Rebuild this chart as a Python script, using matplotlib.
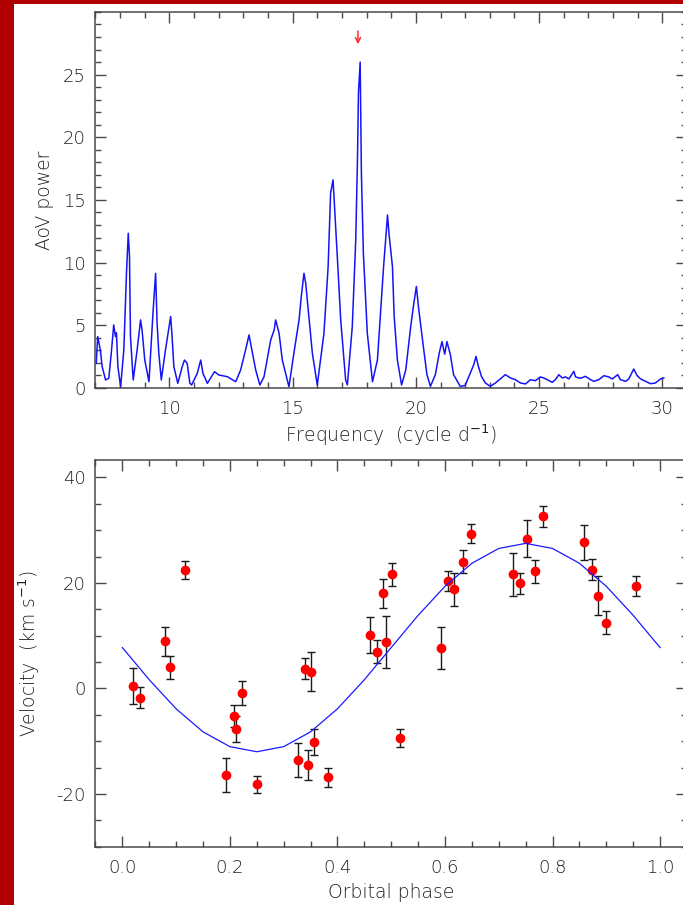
import matplotlib
matplotlib.use("Agg")
import matplotlib.pyplot as plt
from matplotlib.patches import Rectangle
from matplotlib.ticker import MultipleLocator, FormatStrFormatter
import numpy as np

plt.rcParams['font.family'] = ['DejaVu Sans']
plt.rcParams['axes.unicode_minus'] = False

# AoV periodogram (frequency in cycle/day, power)
aov_freq = [7.03, 7.09, 7.20, 7.27, 7.41, 7.54, 7.64, 7.74, 7.81, 7.85, 7.91, 8.02,
            8.15, 8.26, 8.33, 8.38, 8.42, 8.53, 8.69, 8.83, 8.89, 9.00, 9.17, 9.34,
            9.44, 9.50, 9.57, 9.67, 9.84, 10.05, 10.10, 10.18, 10.34, 10.52, 10.61,
            10.72, 10.83, 10.90, 11.13, 11.27, 11.36, 11.54, 11.83, 12.00, 12.35,
            12.69, 12.89, 13.09, 13.23, 13.32, 13.50, 13.67, 13.84, 14.11, 14.25,
            14.31, 14.45, 14.58, 14.85, 15.05, 15.26, 15.35, 15.46, 15.53, 15.67,
            15.80, 16.00, 16.27, 16.44, 16.54, 16.64, 16.70, 16.82, 16.95, 17.15,
            17.22, 17.42, 17.56, 17.63, 17.67, 17.74, 17.79, 17.87, 18.03, 18.24,
            18.44, 18.69, 18.85, 18.91, 19.05, 19.12, 19.25, 19.42, 19.59, 19.79,
            19.91, 20.02, 20.11, 20.31, 20.45, 20.59, 20.79, 20.95, 21.06, 21.17,
            21.26, 21.40, 21.53, 21.80, 22.00, 22.21, 22.35, 22.44, 22.53, 22.66,
            22.82, 23.02, 23.23, 23.50, 23.63, 23.84, 24.04, 24.24, 24.45, 24.65,
            24.85, 25.05, 25.19, 25.33, 25.53, 25.66, 25.80, 25.94, 26.07, 26.21,
            26.41, 26.48, 26.68, 26.88, 27.09, 27.22, 27.42, 27.63, 27.83, 27.97,
            28.19, 28.30, 28.51, 28.64, 28.84, 28.98, 29.12, 29.32, 29.52, 29.72,
            29.93, 30.06]
aov_power = [1.97, 4.10, 3.00, 1.70, 0.64, 0.77, 2.77, 5.03, 4.10, 4.40, 1.70, 0.10,
             3.03, 9.28, 12.34, 10.50, 4.10, 0.64, 3.03, 5.43, 4.63, 2.23, 0.50, 6.20,
             9.15, 5.16, 2.77, 0.64, 3.03, 5.70, 4.36, 1.70, 0.37, 1.70, 2.23,
             1.97, 0.37, 0.24, 1.17, 2.23, 1.17, 0.37, 1.30, 1.04, 0.90,
             0.50, 1.44, 3.03, 4.23, 3.30, 1.44, 0.24, 0.90, 3.83, 4.63,
             5.43, 4.36, 2.23, 0.10, 2.77, 5.43, 7.29, 9.15, 8.36, 5.43,
             2.77, 0.24, 4.36, 9.68, 15.54, 16.60, 14.47, 10.20, 5.43, 0.64,
             0.24, 4.89, 11.80, 18.20, 23.50, 26.00, 17.10, 10.75, 4.36, 0.50,
             2.23, 9.68, 13.80, 12.30, 9.68, 5.70, 2.23, 0.24, 1.44, 4.89,
             6.65, 8.10, 6.40, 3.20, 1.06, 0.13, 1.06, 2.80, 3.70, 2.70,
             3.70, 2.66, 1.06, 0.13, 0.20, 1.20, 1.86, 2.52, 1.77, 0.93,
             0.40, 0.13, 0.40, 0.85, 1.06, 0.80, 0.66, 0.40, 0.32, 0.66,
             0.58, 0.88, 0.80, 0.66, 0.45, 0.66, 1.06, 0.80, 0.88, 0.72,
             1.33, 0.88, 0.77, 0.93, 0.66, 0.53, 0.66, 0.98, 0.88, 0.72,
             1.06, 0.66, 0.53, 0.72, 1.51, 0.98, 0.72, 0.53, 0.34, 0.40,
             0.72, 0.80]
best_freq = 17.65

# Radial velocities folded on the orbital period
phase = [0.019, 0.033, 0.079, 0.089, 0.116, 0.193, 0.207, 0.211, 0.223, 0.250,
         0.326, 0.340, 0.345, 0.350, 0.357, 0.382, 0.460, 0.473, 0.484, 0.490,
         0.501, 0.516, 0.592, 0.606, 0.617, 0.634, 0.649, 0.726, 0.740, 0.753,
         0.767, 0.782, 0.859, 0.873, 0.885, 0.900, 0.956]
velocity = [0.4, -1.8, 8.9, 4.0, 22.4, -16.4, -5.2, -7.7, -0.9, -18.2,
            -13.5, 3.7, -14.5, 3.2, -10.2, -16.8, 10.2, 7.0, 18.0, 8.8,
            21.6, -9.4, 7.7, 20.3, 18.8, 24.0, 29.3, 21.6, 19.9, 28.4,
            22.2, 32.6, 27.7, 22.5, 17.6, 12.5, 19.4]
vel_err = [3.4, 2.0, 2.8, 2.2, 1.7, 3.3, 2.1, 2.5, 2.3, 1.6,
           3.2, 2.0, 2.8, 3.7, 2.5, 1.8, 3.4, 2.1, 2.7, 5.0,
           2.2, 1.75, 4.0, 1.9, 3.1, 2.15, 1.8, 4.1, 2.0, 3.5,
           2.2, 2.05, 3.35, 1.95, 3.7, 2.15, 1.85]

# Circular-orbit fit: systemic velocity and semi-amplitude (km/s)
gamma_fit = 7.75
k_fit = 19.75

axis_grey = '#4a4a4a'
text_grey = '#202020'
tick_size = 13
label_size = 13.5

fig = plt.figure(figsize=(6.83, 9.05), dpi=100)
fig.patch.set_facecolor('white')

# dark red page frame on the left and top edges
fig.patches.append(Rectangle((0, 0), 14 / 683, 1, transform=fig.transFigure,
                             facecolor='#b00000', edgecolor='none', zorder=0))
fig.patches.append(Rectangle((0, 1 - 4 / 905), 1, 4 / 905, transform=fig.transFigure,
                             facecolor='#b00000', edgecolor='none', zorder=0))


def style_axes(ax):
    for sp in ax.spines.values():
        sp.set_color(axis_grey)
        sp.set_linewidth(1.1)
    ax.tick_params(which='both', direction='in', top=True, right=True,
                   color=axis_grey, width=1.0, labelcolor=text_grey,
                   labelsize=tick_size)
    ax.tick_params(which='major', length=8)
    ax.tick_params(which='minor', length=4)
    ax.tick_params(axis='x', which='major', pad=9)
    ax.tick_params(axis='y', which='major', pad=7)
    for lab in ax.get_xticklabels() + ax.get_yticklabels():
        lab.set_fontweight('light')


# --- periodogram ---
ax1 = fig.add_axes([0.1398, 0.5713, 0.866, 0.4155])
ax1.plot(aov_freq, aov_power, color='#1414f5', lw=1.1)
ax1.set_xlim(7, 31)
ax1.set_ylim(0, 30)
ax1.xaxis.set_major_locator(MultipleLocator(5))
ax1.xaxis.set_minor_locator(MultipleLocator(1))
ax1.set_yticks([0, 5, 10, 15, 20, 25])
ax1.yaxis.set_minor_locator(MultipleLocator(1))
style_axes(ax1)
ax1.set_xlabel(r'Frequency  (cycle d$^{-1}$)', fontsize=label_size,
               color=text_grey, fontweight='light')
ax1.set_ylabel('AoV power', fontsize=label_size, color=text_grey,
               fontweight='light')
ax1.xaxis.set_label_coords(0.5, -0.093)
ax1.yaxis.set_label_coords(-0.070, 0.5)
ax1.annotate('', xy=(best_freq, 27.2), xytext=(best_freq, 28.7),
             arrowprops=dict(arrowstyle='->', color='#ff2a2a', lw=1.1,
                             mutation_scale=9))

# --- radial velocity curve ---
ax2 = fig.add_axes([0.1398, 0.0644, 0.866, 0.4273])
ax2.errorbar(phase, velocity, yerr=vel_err, fmt='o', color='red', ms=6,
             ecolor='#1a1a1a', elinewidth=1.0, capsize=3, capthick=1.0, zorder=3)
fit_phase = np.linspace(0.0, 1.0, 21)
ax2.plot(fit_phase, gamma_fit - k_fit * np.sin(2 * np.pi * fit_phase),
         color='#1a1aff', lw=0.9, zorder=4)
ax2.set_xlim(-0.05, 1.05)
ax2.set_ylim(-30, 43.3)
ax2.xaxis.set_major_locator(MultipleLocator(0.2))
ax2.xaxis.set_minor_locator(MultipleLocator(0.05))
ax2.set_yticks([-20, 0, 20, 40])
ax2.yaxis.set_minor_locator(MultipleLocator(5))
ax2.xaxis.set_major_formatter(FormatStrFormatter('%.1f'))
style_axes(ax2)
ax2.set_xlabel('Orbital phase', fontsize=label_size, color=text_grey,
               fontweight='light')
ax2.set_ylabel(r'Velocity  (km s$^{-1}$)', fontsize=label_size, color=text_grey,
               fontweight='light')
ax2.xaxis.set_label_coords(0.5, -0.094)
ax2.yaxis.set_label_coords(-0.090, 0.5)

fig.savefig('out.png', dpi=100)
